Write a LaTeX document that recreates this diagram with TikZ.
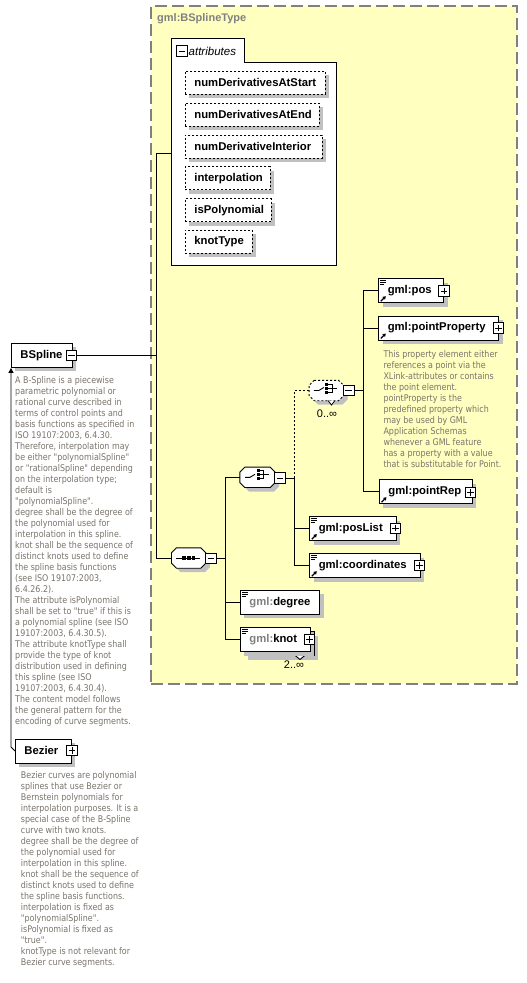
\documentclass[tikz,border=0pt]{standalone}
\usepackage{fontspec}
\setmainfont{Liberation Sans}
\newfontfamily\descfont[FakeStretch=0.865]{DejaVu Sans}
\usetikzlibrary{shadows,arrows.meta}
\definecolor{typefill}{RGB}{255,255,192}
\definecolor{typeline}{RGB}{128,128,128}
\definecolor{shadowc}{RGB}{192,192,192}
\definecolor{desctext}{RGB}{122,116,108}
\definecolor{prefixgray}{RGB}{128,128,128}
\tikzset{
  shadowed/.style={drop shadow={shadow xshift=4pt,shadow yshift=-4pt,opacity=1,fill=shadowc}},
  elembox/.style={draw=black, fill=white, line width=0.9pt, anchor=north west, inner xsep=9pt, inner ysep=0pt,
    minimum height=24pt, align=left, font=\bfseries\fontsize{11.3}{13}\selectfont, shadowed},
  attrbox/.style={elembox, dash pattern=on 2pt off 2pt, minimum height=23pt, line width=0.8pt},
  pmbox/.style={draw=black, fill=white, line width=0.9pt, minimum size=10.5pt, inner sep=0pt},
  minusbox/.style={pmbox, path picture={\draw[line width=0.9pt] ([xshift=2pt]path picture bounding box.west) -- ([xshift=-2pt]path picture bounding box.east);}},
  plusbox/.style={pmbox, path picture={\draw[line width=0.9pt] ([xshift=2pt]path picture bounding box.west) -- ([xshift=-2pt]path picture bounding box.east) ([yshift=-2pt]path picture bounding box.north) -- ([yshift=2pt]path picture bounding box.south);}},
  compnode/.style={draw=none, minimum width=34pt, minimum height=20pt, inner sep=0pt},
  compline/.style={draw=black, fill=white, line width=0.9pt},
  conn/.style={line width=0.9pt, draw=black},
  optconn/.style={conn, dash pattern=on 2pt off 2pt},
  desc/.style={font=\descfont\fontsize{9.2}{11}\selectfont, text=desctext, align=left, inner sep=0pt, anchor=north west},
  occurs/.style={font=\fontsize{11}{13}\selectfont, inner sep=0pt},
  pics/seqicon/.style={code={
    \draw[line width=0.9pt] (-12.5,0) -- (11.5,0);
    \fill (-6.4,-1.8) rectangle (-2.8,1.8);
    \fill (-1.8,-1.8) rectangle (1.8,1.8);
    \fill (2.8,-1.8) rectangle (6.4,1.8);
  }},
  pics/choiceicon/.style={code={
    \draw[line width=0.9pt] (-12.5,0) -- (-7.5,0) -- (-2.5,-3);
    \fill (-1,-8) rectangle (2,-5);
    \fill (-1,-4) rectangle (2,-1);
    \fill (-1,0) rectangle (2,3);
    \draw[line width=0.9pt] (2,-6.5) -- (6,-6.5) -- (6,1.5) -- (2,1.5) (2,-2.5) -- (11,-2.5);
  }}
}
\newcommand\elemnode[6][]{%
  \pgfmathsetmacro\elemtw{#5-18}%
  \node[elembox, text width=\elemtw pt, minimum width=#5pt, #1] (#2) at (#3,#4) {#6};}
\newcommand\simpleicon[1]{\draw[line width=0.8pt]
  ([shift={(1.5,2)}]#1.north west) -- ++(6.5,0)
  ([shift={(1.5,4)}]#1.north west) -- ++(6.5,0)
  ([shift={(1.5,6)}]#1.north west) -- ++(4.5,0);}
\newcommand\reficon[1]{\draw[line width=1.2pt, -{Triangle[length=3pt,width=3.6pt]}]
  ([shift={(2.5,-2)}]#1.south west) -- ++(5,-5);}
\newcommand\octpath[3]{([shift={(#2+5,#3)}]#1.north west) -- ([shift={(#2-5,#3)}]#1.north east)
  -- ([shift={(#2,#3+5)}]#1.north east) -- ([shift={(#2,#3-5)}]#1.south east)
  -- ([shift={(#2-5,#3)}]#1.south east) -- ([shift={(#2+5,#3)}]#1.south west)
  -- ([shift={(#2,#3-5)}]#1.south west) -- ([shift={(#2,#3+5)}]#1.north west) -- cycle}
\newcommand\compshape[2][]{\fill[shadowc] \octpath{#2}{4}{4};\draw[compline,#1] \octpath{#2}{0}{0};}
\begin{document}
\begin{tikzpicture}[x=1pt,y=-1pt]
\useasboundingbox (0,0) rectangle (527,983);
\fill[white] (0,0) rectangle (527,983);

% complex type container
\node[draw=typeline, fill=typefill, line width=1.5pt, dash pattern=on 12pt off 5pt, anchor=north west,
  minimum width=366pt, minimum height=678pt, inner sep=0pt] (bsplinetype) at (150,5) {};
\node[anchor=west, inner sep=0pt, text=typeline, font=\bfseries\fontsize{11}{13}\selectfont] (typetitle) at (157,19) {gml:BSplineType};

% attributes group
\draw[line width=1pt, fill=white] (171,38) -- (244,38) -- (244,62) -- (336,62) -- (336,265) -- (171,265) -- cycle;
\coordinate (attrL) at (171,153);
\node[minusbox] (attrM) at (182,51) {};
\node[anchor=west, inner sep=0pt, font=\itshape\fontsize{11.5}{13}\selectfont] (attrtitle) at (188.5,51) {attributes};
\elemnode[attrbox, minimum height=23pt]{aStart}{185}{71}{140}{numDerivativesAtStart}
\elemnode[attrbox, minimum height=23pt]{aEnd}{185}{102.8}{134}{numDerivativesAtEnd}
\elemnode[attrbox, minimum height=23pt]{aInt}{185}{134.6}{137}{numDerivativeInterior}
\elemnode[attrbox, minimum height=23pt]{aInterp}{185}{166.4}{85}{interpolation}
\elemnode[attrbox, minimum height=23pt]{aPoly}{185}{198.2}{86}{isPolynomial}
\elemnode[attrbox, minimum height=23pt]{aKnot}{185}{230}{67}{knotType}

% global elements
\elemnode{bspline}{11}{343}{61}{BSpline}
\node[minusbox] (bsplineM) at (71.5,355.5) {};
\elemnode{bezier}{15}{738.5}{56}{Bezier}
\node[plusbox] (bezierP) at (72,750.5) {};
\draw[conn, -{Triangle[length=5pt,width=5pt]}] (bezier.west) -- ++(-4,-4) -- (bspline.south west);

% descriptions
\node[desc] (bsplinedesc) at (15,376.3) {A B-Spline is a piecewise\\parametric polynomial or\\rational curve described in\\terms of control points and\\basis functions as specified in\\ISO 19107:2003, 6.4.30.\\Therefore, interpolation may\\be either "polynomialSpline"\\or "rationalSpline" depending\\on the interpolation type;\\default is\\"polynomialSpline".\\degree shall be the degree of\\the polynomial used for\\interpolation in this spline.\\knot shall be the sequence of\\distinct knots used to define\\the spline basis functions\\(see ISO 19107:2003,\\6.4.26.2).\\The attribute isPolynomial\\shall be set to "true" if this is\\a polynomial spline (see ISO\\19107:2003, 6.4.30.5).\\The attribute knotType shall\\provide the type of knot\\distribution used in defining\\this spline (see ISO\\19107:2003, 6.4.30.4).\\The content model follows\\the general pattern for the\\encoding of curve segments.};
\node[desc] (bezierdesc) at (20.7,771.5) {Bezier curves are polynomial\\splines that use Bezier or\\Bernstein polynomials for\\interpolation purposes. It is a\\special case of the B-Spline\\curve with two knots.\\degree shall be the degree of\\the polynomial used for\\interpolation in this spline.\\knot shall be the sequence of\\distinct knots used to define\\the spline basis functions.\\interpolation is fixed as\\"polynomialSpline".\\isPolynomial is fixed as\\"true".\\knotType is not relevant for\\Bezier curve segments.};

% spine 1
\coordinate (sp1) at (156.5,0);
\node[compnode] (seq) at (188.7,558) {};
\compshape{seq}
\pic at (seq.center) {seqicon};
\node[minusbox] (seqM) at (210.8,558.5) {};
\draw[conn] (bsplineM.east) -- (bsplineM.east -| sp1);
\draw[conn] (attrL) -- (attrL -| sp1) -- (seq.west -| sp1) -- (seq.west);

% spine 2
\coordinate (sp2) at (225.7,0);
\node[compnode, minimum width=35pt] (choice) at (257.5,477.3) {};
\compshape{choice}
\pic at (choice.center) {choiceicon};
\node[minusbox] (chM) at (280,478) {};
\elemnode{degree}{240}{590}{79.3}{\textcolor{prefixgray}{gml:}degree}
\simpleicon{degree}
\node[draw=black, fill=white, line width=0.9pt, minimum width=70pt, minimum height=24pt, anchor=north west, shadowed] (knotback) at (244,631.3) {};
\draw[line width=0.9pt, fill=white] (295,655.3) -- (300,659.5) -- (305,655.3);
\elemnode[drop shadow={opacity=0}]{knot}{240}{627.3}{70}{\textcolor{prefixgray}{gml:}knot}
\simpleicon{knot}
\node[plusbox] (knotP) at (309.5,639.5) {};
\node[occurs] (knotocc) at (294,665) {2..\char"221E};
\draw[conn] (seqM.east) -- (seqM.east -| sp2);
\draw[conn] (choice.west) -- (choice.west -| sp2) -- (knot.west -| sp2) -- (knot.west);
\draw[conn] (degree.west -| sp2) -- (degree.west);

% spine 3
\coordinate (sp3) at (294.3,0);
\node[compnode] (choice2) at (326.3,390.5) {};
\compshape[dash pattern=on 2pt off 2pt]{choice2}
\draw[line width=0.8pt, fill=white] (328,400.5) -- (331.5,405) -- (335,400.5);
\pic at (choice2.center) {choiceicon};
\node[minusbox] (ch2M) at (348.7,390.5) {};
\node[occurs] (ch2occ) at (327,414) {0..\char"221E};
\elemnode{posList}{309.3}{516.2}{86.7}{gml:posList}
\simpleicon{posList}\reficon{posList}
\node[plusbox] (plP) at (395.5,528.2) {};
\elemnode{coords}{309.3}{553.3}{110.7}{gml:coordinates}
\simpleicon{coords}\reficon{coords}
\node[plusbox] (coP) at (419.5,565.5) {};
\draw[conn] (chM.east) -- (chM.east -| sp3) -- (coords.west -| sp3) -- (coords.west);
\draw[conn] (posList.west -| sp3) -- (posList.west);
\draw[optconn] (chM.east -| sp3) -- (choice2.west -| sp3) -- (choice2.west);

% spine 4
\coordinate (sp4) at (363.3,0);
\elemnode{pos}{378.3}{278.3}{65}{gml:pos}
\simpleicon{pos}\reficon{pos}
\node[plusbox] (posP) at (444,291) {};
\elemnode{pointProperty}{378.3}{315.6}{120}{gml:pointProperty}
\reficon{pointProperty}
\node[plusbox] (ppP) at (498.5,328) {};
\node[desc] (ppdesc) at (383.3,350) {This property element either\\references a point via the\\XLink-attributes or contains\\the point element.\\pointProperty is the\\predefined property which\\may be used by GML\\Application Schemas\\whenever a GML feature\\has a property with a value\\that is substitutable for Point.};
\elemnode{pointRep}{379}{479.3}{92.7}{gml:pointRep}
\reficon{pointRep}
\node[plusbox] (prP) at (470.5,492.5) {};
\draw[conn] (ch2M.east) -- (ch2M.east -| sp4);
\draw[conn] (pos.west) -- (pos.west -| sp4) -- (pointRep.west -| sp4) -- (pointRep.west);
\draw[conn] (pointProperty.west -| sp4) -- (pointProperty.west);
\end{tikzpicture}
\end{document}
